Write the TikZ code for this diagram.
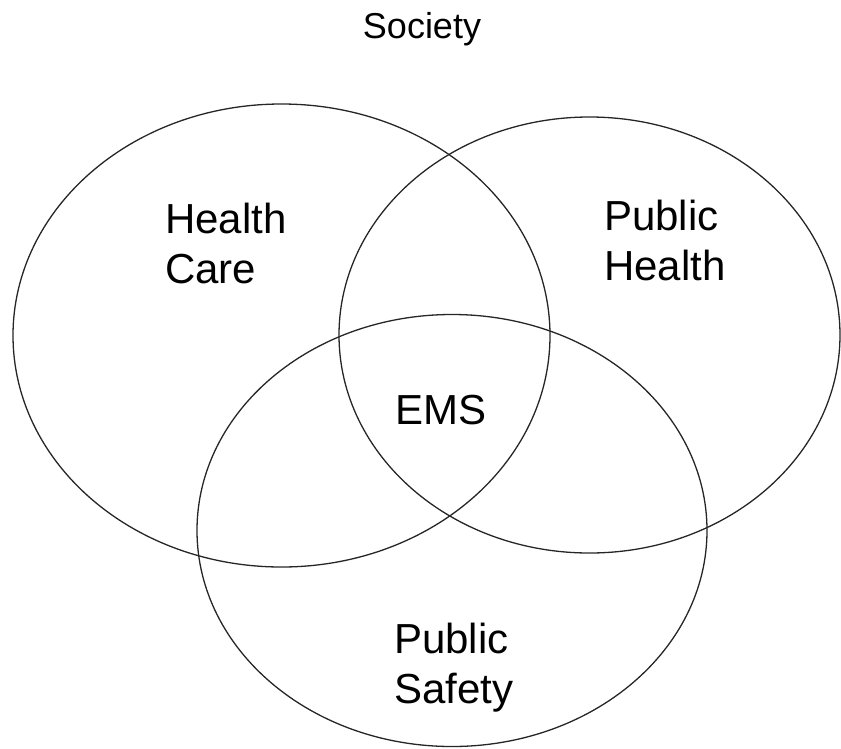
\documentclass[tikz,border=0pt]{standalone}
\usepackage{fontspec}
\setmainfont{Liberation Sans}
\begin{document}
\begin{tikzpicture}[x=1pt,y=-1pt,
  venn/.style={draw=black!85,line width=1.3pt},
  biglabel/.style={inner sep=0pt,align=left,font=\fontsize{42}{50}\selectfont},
  toplabel/.style={inner sep=0pt,font=\fontsize{36}{42}\selectfont}]
\useasboundingbox (0,0) rectangle (841,748);
\draw[venn] (281.5,335.5) ellipse [x radius=268.5, y radius=231.5];
\draw[venn] (589.5,335) ellipse [x radius=250.5, y radius=218];
\draw[venn] (452,530.5) ellipse [x radius=255, y radius=216];
\node[toplabel,anchor=north] (soc) at (422,12) {Society};
\node[biglabel,anchor=north west] (hc) at (165,203) {Health\\Care};
\node[biglabel,anchor=north west] (ph) at (604,200) {Public\\Health};
\node[biglabel,anchor=north west] (ps) at (394,623) {Public\\Safety};
\node[biglabel,anchor=north] (ems) at (441,395) {EMS};
\end{tikzpicture}
\end{document}
